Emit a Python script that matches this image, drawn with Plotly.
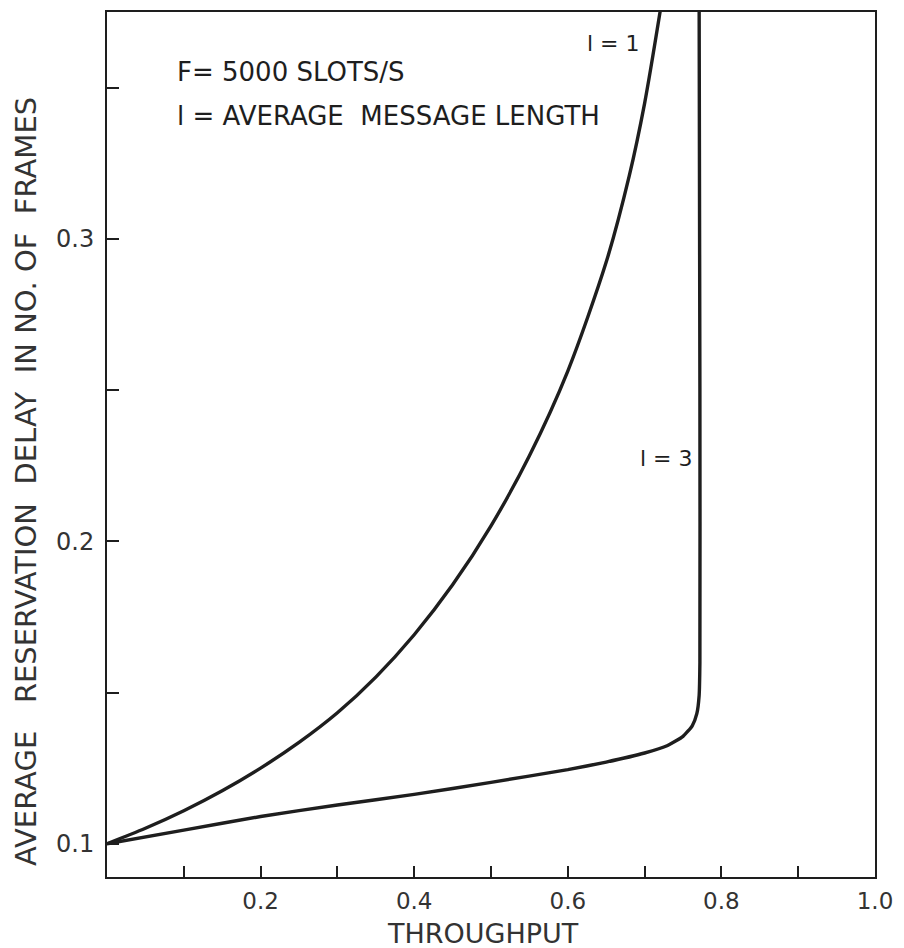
import plotly.graph_objects as go

# l = 1 curve (throughput, delay in frames)
l1_x = [0.0, 0.05, 0.10, 0.15, 0.20, 0.25, 0.30, 0.35, 0.40, 0.45, 0.50, 0.55, 0.60, 0.65, 0.68, 0.70, 0.72, 0.725]
l1_y = [0.100, 0.1051, 0.1109, 0.1175, 0.1250, 0.1335, 0.1433, 0.1551, 0.1691, 0.1856, 0.2051, 0.2283,
        0.2563, 0.2923, 0.3208, 0.3448, 0.3748, 0.3830]

# l = 3 curve
l3_x = [0.0, 0.10, 0.20, 0.30, 0.40, 0.50, 0.60, 0.65, 0.70, 0.73, 0.75, 0.762, 0.768, 0.771, 0.772, 0.772, 0.771]
l3_y = [0.100, 0.1045, 0.1090, 0.1128, 0.1163, 0.1203, 0.1245, 0.1270, 0.1300, 0.1325, 0.1355, 0.1390, 0.1430, 0.1490, 0.1600, 0.2500, 0.3800]

x_tickvals = [0.1, 0.2, 0.3, 0.4, 0.5, 0.6, 0.7, 0.8, 0.9, 1.0]
x_ticktext = ["", "0.2", "", "0.4", "", "0.6", "", "0.8", "", "1.0"]
y_tickvals = [0.1, 0.15, 0.2, 0.25, 0.3, 0.35]
y_ticktext = ["0.1", "", "0.2", "", "0.3", ""]

INK = "#1e1e1e"
FONT = "DejaVu Sans"

fig = go.Figure()
fig.add_trace(go.Scatter(x=l1_x, y=l1_y, mode="lines",
                         line=dict(color=INK, width=3.4, shape="spline", smoothing=0.8),
                         showlegend=False))
fig.add_trace(go.Scatter(x=l3_x, y=l3_y, mode="lines",
                         line=dict(color=INK, width=3.4, shape="spline", smoothing=0.5),
                         showlegend=False))

# page body adds an 8px offset, so the figure is sized to fit the window
fig.update_layout(
    width=896, height=940,
    margin=dict(l=99, r=29, t=2, b=71),
    paper_bgcolor="white", plot_bgcolor="white",
    font=dict(family=FONT, color="#333333"),
    showlegend=False,
)
fig.update_xaxes(range=[0, 1.0], tickvals=x_tickvals, ticktext=x_ticktext,
                 ticks="inside", ticklen=11, tickwidth=2, tickcolor=INK,
                 showline=True, linecolor=INK, linewidth=2, mirror=True,
                 showgrid=False, zeroline=False,
                 tickfont=dict(size=23, color="#333333", family=FONT), ticklabelstandoff=2)
fig.update_yaxes(range=[0.089, 0.375], tickvals=y_tickvals, ticktext=y_ticktext,
                 ticks="inside", ticklen=12, tickwidth=2, tickcolor=INK,
                 showline=True, linecolor=INK, linewidth=2, mirror=True,
                 showgrid=False, zeroline=False,
                 tickfont=dict(size=24, color="#333333", family=FONT), ticklabelstandoff=6)

NB = "\u00a0"
annots = [
    dict(text="F=" + NB + "5000" + NB + "SLOTS/S", x=0.088, y=0.355, xref="x", yref="y",
         xanchor="left", yanchor="middle", font=dict(size=26, color=INK, family=FONT)),
    dict(text="l" + NB + "=" + NB + "AVERAGE" + NB * 2 + "MESSAGE" + NB + "LENGTH", x=0.088, y=0.3405,
         xref="x", yref="y", xanchor="left", yanchor="middle", font=dict(size=26, color=INK, family=FONT)),
    dict(text="l" + NB + "=" + NB + "1", x=0.696, y=0.3646, xref="x", yref="y",
         xanchor="right", yanchor="middle", font=dict(size=22, color=INK, family=FONT)),
    dict(text="l" + NB + "=" + NB + "3", x=0.765, y=0.2275, xref="x", yref="y",
         xanchor="right", yanchor="middle", font=dict(size=22, color=INK, family=FONT)),
    dict(text="THROUGHPUT", x=0.489, y=0, xref="x", yref="paper", yshift=-56,
         xanchor="center", yanchor="middle", font=dict(size=27, color="#333333", family=FONT)),
    dict(text="AVERAGE" + NB * 3 + "RESERVATION" + NB * 2 + "DELAY" + NB * 2 + "IN" + NB + "NO." + NB + "OF" + NB * 2 + "FRAMES",
         x=0, y=0.2196, xref="paper", yref="y", xshift=-81, textangle=-90,
         xanchor="center", yanchor="middle", font=dict(size=29, color="#333333", family=FONT)),
]
for a in annots:
    fig.add_annotation(showarrow=False, **a)

fig.write_html("out.html")
